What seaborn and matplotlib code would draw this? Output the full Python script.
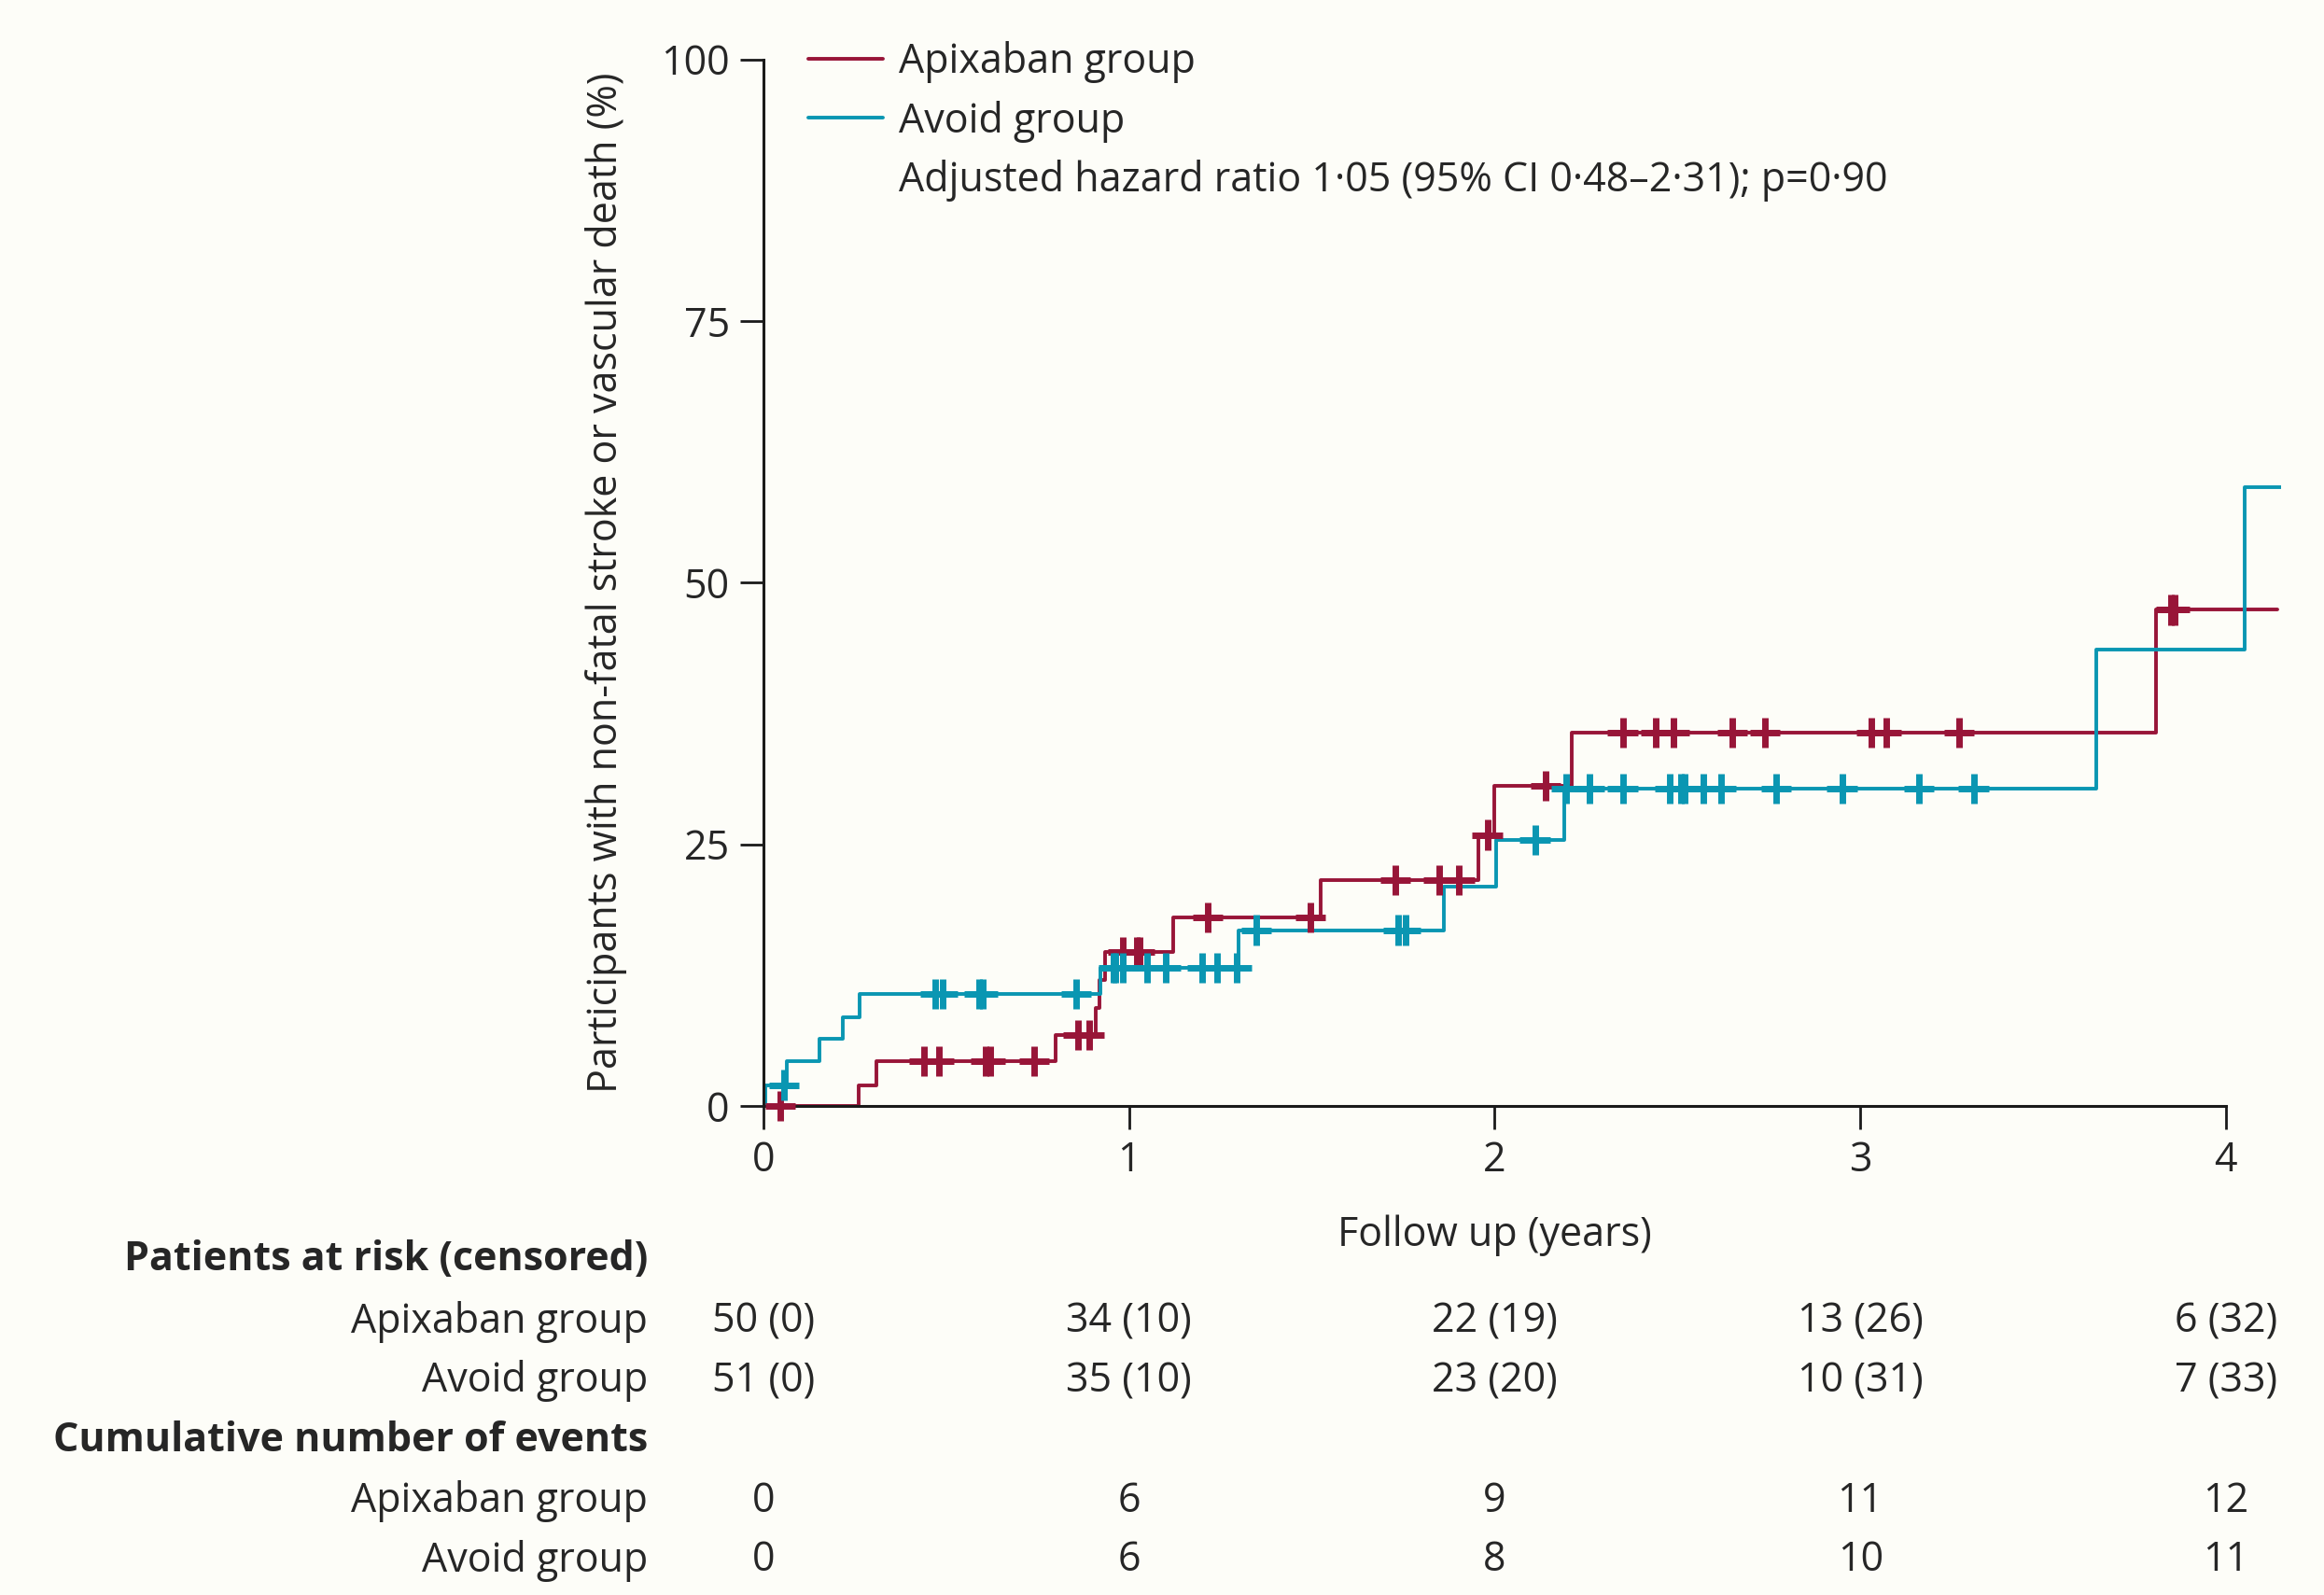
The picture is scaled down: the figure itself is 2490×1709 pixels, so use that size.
import numpy as np
import pandas as pd
import matplotlib
matplotlib.use('Agg')
import matplotlib.pyplot as plt
import seaborn as sns
from matplotlib import transforms
from matplotlib.lines import Line2D

# Kaplan-Meier style step curves (years, %)
apix_times = [0, 0.26, 0.31, 0.80, 0.908, 0.919, 0.935, 1.12, 1.524, 1.956, 2.0, 2.21, 3.81, 4.14]
apix_pct = [0, 2.0, 4.3, 6.8, 9.4, 12.0, 14.7, 18.0, 21.6, 25.9, 30.6, 35.7, 47.4, 47.4]
avoid_times = [0, 0.004, 0.065, 0.153, 0.218, 0.263, 0.922, 1.30, 1.86, 2.003, 2.19, 3.646, 4.05, 4.15]
avoid_pct = [0, 2.0, 4.3, 6.4, 8.5, 10.7, 13.2, 16.8, 21.0, 25.4, 30.3, 43.6, 59.1, 59.1]

# censoring times (+ marks)
apix_cens = [0.046, 0.44, 0.48, 0.607, 0.62, 0.74, 0.86, 0.89, 0.984, 1.022, 1.028, 1.215,
             1.496, 1.728, 1.847, 1.903, 1.98, 2.14, 2.35, 2.44, 2.49, 2.65, 2.74, 3.03,
             3.07, 3.27, 3.85, 3.86]
avoid_cens = [0.056, 0.47, 0.49, 0.59, 0.60, 0.856, 0.957, 0.962, 0.984, 1.05, 1.10, 1.20,
              1.24, 1.295, 1.347, 1.737, 1.756, 2.11, 2.195, 2.26, 2.35, 2.48, 2.51, 2.52,
              2.57, 2.62, 2.77, 2.95, 3.16, 3.31]

groups = ['Apixaban group', 'Avoid group']
colors = {'Apixaban group': '#981538', 'Avoid group': '#0a96b2'}

# numbers at risk table
year_ticks = [0, 1, 2, 3, 4]
apix_risk = ['50 (0)', '34 (10)', '22 (19)', '13 (26)', '6 (32)']
avoid_risk = ['51 (0)', '35 (10)', '23 (20)', '10 (31)', '7 (33)']
apix_events = ['0', '6', '9', '11', '12']
avoid_events = ['0', '6', '8', '10', '11']

hr_text = 'Adjusted hazard ratio 1·05 (95% CI 0·48–2·31); p=0·90'


def level_at(times, pct, t):
    idx = np.searchsorted(times, t, side='right') - 1
    return np.asarray(pct)[idx]


curves = pd.concat([
    pd.DataFrame({'time': apix_times, 'pct': apix_pct, 'group': groups[0]}),
    pd.DataFrame({'time': avoid_times, 'pct': avoid_pct, 'group': groups[1]}),
], ignore_index=True)

cens = pd.concat([
    pd.DataFrame({'time': apix_cens, 'pct': level_at(apix_times, apix_pct, apix_cens), 'group': groups[0]}),
    pd.DataFrame({'time': avoid_cens, 'pct': level_at(avoid_times, avoid_pct, avoid_cens), 'group': groups[1]}),
], ignore_index=True)

bg = '#fdfdf8'
fs = 31

sns.set_style('ticks')
plt.rcParams['font.family'] = ['Open Sans', 'DejaVu Sans']

fig = plt.figure(figsize=(24.9, 17.09), dpi=100, facecolor=bg)
ax = fig.add_axes([0.3285, 0.3066, 0.6529, 0.6562])
ax.set_facecolor(bg)

sns.lineplot(data=curves, x='time', y='pct', hue='group', palette=colors,
             drawstyle='steps-post', estimator=None, sort=False,
             linewidth=2.8, legend=False, ax=ax)
sns.scatterplot(data=cens, x='time', y='pct', hue='group', palette=colors,
                marker='+', s=540, linewidth=5, legend=False, ax=ax,
                zorder=3, clip_on=False)

ax.set_xlim(0, 4.15)
ax.set_ylim(0, 100)
ax.set_xticks(year_ticks)
ax.set_yticks([0, 25, 50, 75, 100])
ax.spines['top'].set_visible(False)
ax.spines['right'].set_visible(False)
ax.spines['bottom'].set_bounds(0, 4)
for s in ['left', 'bottom']:
    ax.spines[s].set_linewidth(2.2)
    ax.spines[s].set_color('#1a1a1a')
ax.tick_params(length=18, width=2.0, labelsize=fs, color='#1a1a1a', pad=8)
ax.set_xlabel('Follow up (years)', fontsize=fs, labelpad=26)
ax.xaxis.label.set_x(2 / 4.15)  # centred under the 2-year tick
ax.set_ylabel('Participants with non-fatal stroke or vascular death (%)', fontsize=fs, labelpad=26)

# legend: two curves plus the hazard ratio line as a blank entry
handles = [Line2D([], [], color=colors[g], lw=2.8) for g in groups]
handles.append(Line2D([], [], color='none'))
ax.legend(handles, groups + [hr_text], loc='upper left', bbox_to_anchor=(0.3478, 0.9745),
          bbox_transform=fig.transFigure, frameon=False, fontsize=fs,
          handlelength=1.85, handletextpad=0.4, labelspacing=0.44,
          borderpad=0, borderaxespad=0)

# at-risk table below the axis
tr = transforms.blended_transform_factory(ax.transData, fig.transFigure)
lab_x = 0.2787
rows = [
    ('Patients at risk (censored)', None, 0.2105, True),
    ('Apixaban group', apix_risk, 0.1712, False),
    ('Avoid group', avoid_risk, 0.1340, False),
    ('Cumulative number of events', None, 0.0968, True),
    ('Apixaban group', apix_events, 0.0586, False),
    ('Avoid group', avoid_events, 0.0216, False),
]
for label, vals, y, bold in rows:
    fig.text(lab_x, y, label, fontsize=fs, ha='right', va='center',
             fontweight='bold' if bold else 'normal')
    if vals is not None:
        for xv, v in zip(year_ticks, vals):
            ax.text(xv, y, v, transform=tr, fontsize=fs, ha='center', va='center')

fig.savefig('out.png', dpi=100, facecolor=bg)
